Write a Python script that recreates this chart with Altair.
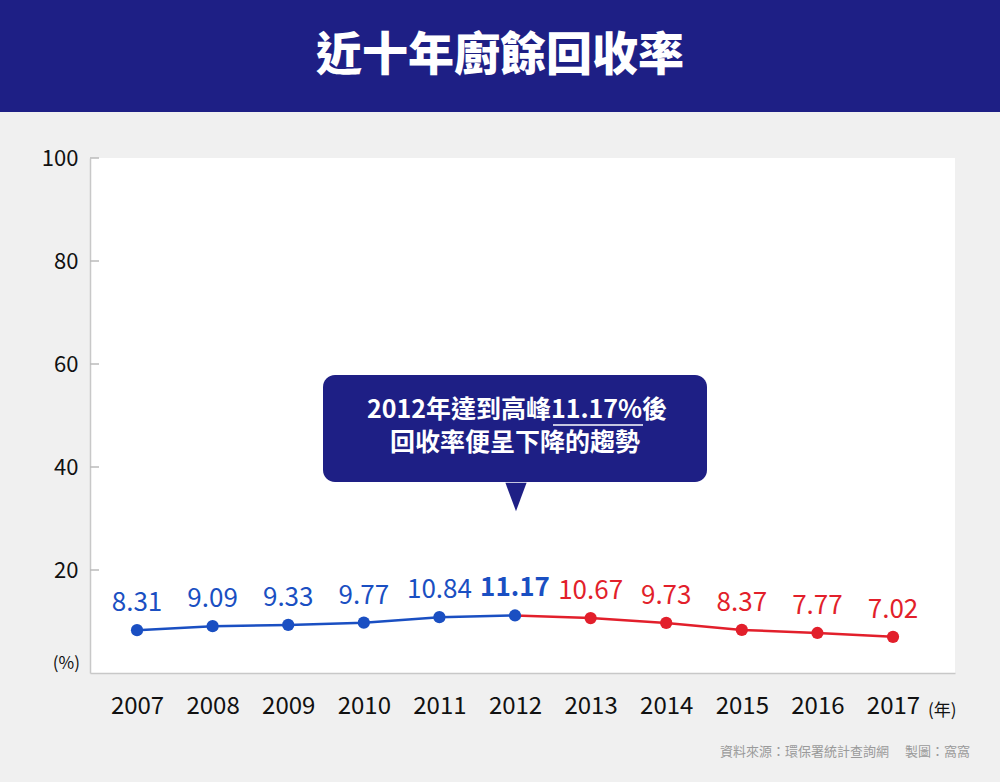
import altair as alt
import pandas as pd

years = [2007, 2008, 2009, 2010, 2011, 2012, 2013, 2014, 2015, 2016, 2017]
rates = [8.31, 9.09, 9.33, 9.77, 10.84, 11.17, 10.67, 9.73, 8.37, 7.77, 7.02]
labels = ["8.31", "9.09", "9.33", "9.77", "10.84", "11.17", "10.67", "9.73", "8.37", "7.77", "7.02"]
y_ticks = [20, 40, 60, 80, 100]

FONT = "Noto Sans CJK TC"
BLUE = "#1a4fc2"
RED = "#e21f2b"
NAVY = "#1e1f85"
GRAY = "#c8c8c8"

df = pd.DataFrame({"year": years, "rate": rates, "label": labels})
tick_df = pd.DataFrame({"v": y_ticks})
one = pd.DataFrame({"a": [0]})

xscale = alt.Scale(domain=[2006.378, 2017.82], nice=False, zero=False)
yscale = alt.Scale(domain=[0, 100], nice=False)

x_axis = alt.Axis(values=years, format="d", ticks=False, grid=False, title=None)
y_axis = alt.Axis(values=y_ticks, ticks=False, grid=False, title=None)


def X(field):
    return alt.X(field, scale=xscale, axis=x_axis)


def Y(field):
    return alt.Y(field, scale=yscale, axis=y_axis)


base = alt.Chart(df)

line_up = base.transform_filter("datum.year <= 2012").mark_line(color=BLUE, strokeWidth=2.5).encode(
    x=X("year:Q"), y=Y("rate:Q"))
line_down = base.transform_filter("datum.year >= 2012").mark_line(color=RED, strokeWidth=2.5).encode(
    x=X("year:Q"), y=Y("rate:Q"))
points = base.mark_circle(size=150, opacity=1).encode(
    x=X("year:Q"), y=Y("rate:Q"),
    color=alt.condition("datum.year <= 2012", alt.value(BLUE), alt.value(RED)),
)
texts = base.transform_filter("datum.year != 2012").mark_text(
    fontSize=26, font=FONT, baseline="bottom", dy=-14).encode(
    x=X("year:Q"), y=Y("rate:Q"),
    text="label:N",
    color=alt.condition("datum.year < 2012", alt.value(BLUE), alt.value(RED)),
)
peak_text = base.transform_filter("datum.year == 2012").mark_text(
    fontSize=26, font=FONT, fontWeight="bold", baseline="bottom", dy=-14, color=BLUE).encode(
    x=X("year:Q"), y=Y("rate:Q"),
    text="label:N",
)
inner_ticks = alt.Chart(tick_df).mark_rule(color="#bbbbbb", strokeWidth=1.5).encode(
    y=Y("v:Q"),
    x=alt.value(0), x2=alt.value(9),
)

banner = alt.Chart(one).mark_rect(color=NAVY).encode(
    x=alt.value(-90), x2=alt.value(910), y=alt.value(-158), y2=alt.value(-46))
title = alt.Chart(one).mark_text(color="white", fontSize=46, fontWeight=900, font=FONT,
                                 align="center", baseline="middle").encode(
    x=alt.value(410), y=alt.value(-102), text=alt.value("近十年廚餘回收率"))

callout = alt.Chart(one).mark_rect(color=NAVY, cornerRadius=12).encode(
    x=alt.value(233), x2=alt.value(617), y=alt.value(217), y2=alt.value(324))
pointer = alt.Chart(one).mark_point(shape="M -0.75 -1 L 0.75 -1 L 0 1 Z", size=800,
                                    filled=True, color=NAVY, opacity=1).encode(
    x=alt.value(426), y=alt.value(339))
call1 = alt.Chart(one).mark_text(color="white", fontSize=25, fontWeight="bold", font=FONT,
                                 align="center", baseline="middle").encode(
    x=alt.value(427), y=alt.value(252), text=alt.value("2012年達到高峰11.17%後"))
call2 = alt.Chart(one).mark_text(color="white", fontSize=25, fontWeight="bold", font=FONT,
                                 align="center", baseline="middle").encode(
    x=alt.value(425), y=alt.value(285), text=alt.value("回收率便呈下降的趨勢"))
underline = alt.Chart(one).mark_rule(color="white", strokeWidth=1.5).encode(
    x=alt.value(463), x2=alt.value(553), y=alt.value(267))

pct = alt.Chart(one).mark_text(color="#111", fontSize=17, font=FONT,
                               align="right", baseline="middle").encode(
    x=alt.value(-10), y=alt.value(506), text=alt.value("(%)"))
nian = alt.Chart(one).mark_text(color="#111", fontSize=17, font=FONT,
                                align="left", baseline="middle").encode(
    x=alt.value(838), y=alt.value(553), text=alt.value("(年)"))
source = alt.Chart(one).mark_text(color="#9a9a9a", fontSize=13, font=FONT, align="right",
                                  baseline="middle").encode(
    x=alt.value(880), y=alt.value(594), text=alt.value("資料來源：環保署統計查詢網　 製圖：窩窩"))

chart = alt.layer(
    banner, title, inner_ticks, line_up, line_down, points, texts, peak_text,
    callout, pointer, call1, call2, underline, pct, nian, source
).properties(
    width=865, height=515,
    autosize=alt.AutoSizeParams(type="none"),
    padding={"left": 90, "top": 158, "right": 45, "bottom": 109},
    background="#f0f0f0",
).configure_view(stroke=None, fill="white").configure_axisX(
    labelFontSize=24, labelColor="#111", labelFont=FONT,
    labelPadding=21, domainColor=GRAY, domainWidth=1.5,
).configure_axisY(
    labelFontSize=22, labelColor="#111", labelFont=FONT,
    labelPadding=12, domainColor=GRAY, domainWidth=1.5,
)

chart.save("out.html", embed_options={"renderer": "svg", "actions": False})
